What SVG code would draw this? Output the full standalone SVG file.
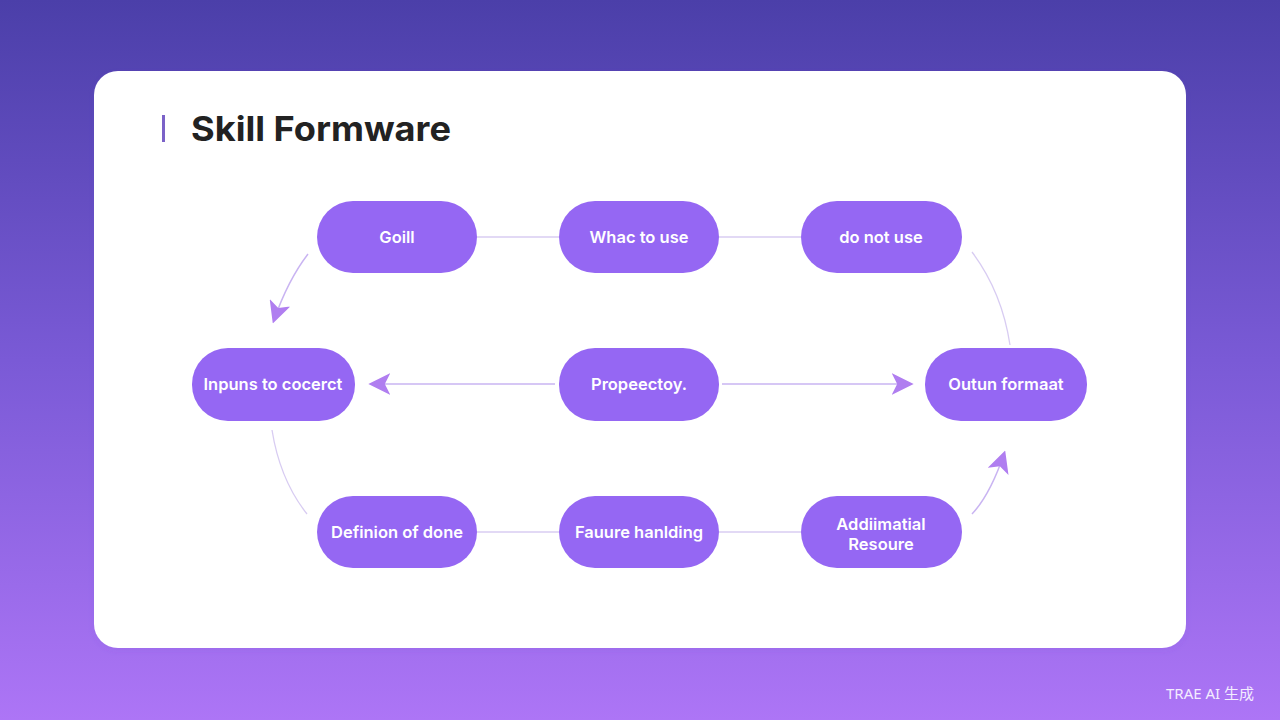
<svg xmlns="http://www.w3.org/2000/svg" width="1280" height="720" viewBox="0 0 1280 720">
<defs>
<linearGradient id="bg" x1="0" y1="0" x2="0" y2="1">
<stop offset="0" stop-color="#4b3fa9"/>
<stop offset="0.5" stop-color="#7a5ad6"/>
<stop offset="1" stop-color="#ad75f6"/>
</linearGradient>
<marker id="arr" viewBox="0 0 12 12" refX="10" refY="6" markerWidth="22" markerHeight="22" markerUnits="userSpaceOnUse" orient="auto">
<path d="M0,0 L12,6 L0,12 L3,6 Z" fill="#b07ef0"/>
</marker>
<filter id="sh" x="-10%" y="-10%" width="120%" height="130%">
<feDropShadow dx="0" dy="2" stdDeviation="3" flood-color="#6a3fd0" flood-opacity="0.12"/>
</filter>
</defs>
<style>
.node rect{fill:#9567f3;}
.node text{fill:#ffffff;font-family:Inter,"Liberation Sans",sans-serif;font-size:16.5px;font-weight:600;text-anchor:middle;dominant-baseline:central;}
.conn{fill:none;stroke:#d8ccf2;stroke-width:1.3;}
.conn2{fill:none;stroke:#c9b4f2;stroke-width:1.5;}
</style>
<rect width="1280" height="720" fill="url(#bg)"/>
<rect x="94" y="71" width="1092" height="577" rx="24" fill="#ffffff" filter="url(#sh)"/>
<rect x="162" y="115" width="3" height="27" fill="#7b62c8"/>
<text x="191" y="141" font-family="Inter,'Liberation Sans',sans-serif" font-size="34" font-weight="700" fill="#222222" textLength="260" lengthAdjust="spacingAndGlyphs">Skill Formware</text>
<g id="connectors">
<line class="conn" x1="477" y1="237" x2="559" y2="237"/>
<line class="conn" x1="719" y1="237" x2="801" y2="237"/>
<line class="conn" x1="477" y1="532" x2="559" y2="532"/>
<line class="conn" x1="719" y1="532" x2="801" y2="532"/>
<path class="conn2" d="M308,254 Q288,280 274,320" marker-end="url(#arr)"/>
<path class="conn" d="M972,252 Q1002,292 1010,345"/>
<path class="conn" d="M272,430 Q280,480 307,514"/>
<path class="conn2" d="M972,514 Q990,495 1004,454" marker-end="url(#arr)"/>
<line class="conn2" x1="555" y1="384" x2="372" y2="384" marker-end="url(#arr)"/>
<line class="conn2" x1="722" y1="384" x2="910" y2="384" marker-end="url(#arr)"/>
</g>
<g id="n-goill" class="node"><rect x="317" y="201" width="160" height="72" rx="36"/><text x="397" y="237">Goill</text></g>
<g id="n-what" class="node"><rect x="559" y="201" width="160" height="72" rx="36"/><text x="639" y="237">Whac to use</text></g>
<g id="n-donot" class="node"><rect x="801" y="201" width="161" height="72" rx="36"/><text x="881" y="237">do not use</text></g>
<g id="n-inputs" class="node"><rect x="192" y="348" width="163" height="73" rx="36"/><text x="273" y="384">Inpuns to cocerct</text></g>
<g id="n-prop" class="node"><rect x="559" y="348" width="160" height="73" rx="36"/><text x="639" y="384">Propeectoy.</text></g>
<g id="n-output" class="node"><rect x="925" y="348" width="162" height="73" rx="36"/><text x="1006" y="384">Outun formaat</text></g>
<g id="n-def" class="node"><rect x="317" y="496" width="160" height="72" rx="36"/><text x="397" y="532">Definion of done</text></g>
<g id="n-fail" class="node"><rect x="559" y="496" width="160" height="72" rx="36"/><text x="639" y="532">Fauure hanlding</text></g>
<g id="n-add" class="node"><rect x="801" y="496" width="161" height="72" rx="36"/><text x="881" y="524">Addiimatial</text><text x="881" y="544">Resoure</text></g>
<text x="1166" y="699" font-family="'Noto Sans','Noto Sans CJK SC',sans-serif" font-size="15" fill="#f3ecff">TRAE AI 生成</text>
</svg>
